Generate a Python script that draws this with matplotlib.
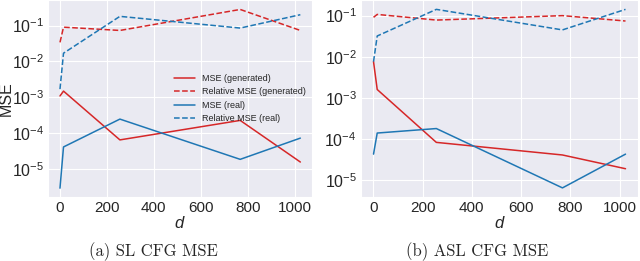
import matplotlib
matplotlib.use('Agg')
import matplotlib.pyplot as plt
import seaborn as sns

# d values on the x axis
d = [1, 16, 256, 768, 1024]

# (a) SL CFG
sl_mse_gen = [1.1e-3, 1.5e-3, 6.6e-5, 2.3e-4, 1.6e-5]
sl_rel_gen = [3.4e-2, 9.0e-2, 7.3e-2, 2.8e-1, 7.3e-2]
sl_mse_real = [3.0e-6, 4.2e-5, 2.5e-4, 1.9e-5, 7.4e-5]
sl_rel_real = [1.7e-3, 1.7e-2, 1.8e-1, 8.5e-2, 2.0e-1]

# (b) ASL CFG
asl_mse_gen = [7.6e-3, 1.6e-3, 8.3e-5, 4.1e-5, 1.9e-5]
asl_rel_gen = [9.1e-2, 1.07e-1, 7.8e-2, 1.0e-1, 7.4e-2]
asl_mse_real = [4.3e-5, 1.4e-4, 1.8e-4, 6.5e-6, 4.3e-5]
asl_rel_real = [7.6e-3, 3.2e-2, 1.42e-1, 4.5e-2, 1.42e-1]

captions = ['(a) SL CFG MSE', '(b) ASL CFG MSE']
labels = ['MSE (generated)', 'Relative MSE (generated)', 'MSE (real)', 'Relative MSE (real)']

sns.set_style('darkgrid')
plt.rcParams['font.family'] = ['Liberation Sans', 'DejaVu Sans']
plt.rcParams['mathtext.fontset'] = 'custom'
plt.rcParams['mathtext.rm'] = 'Liberation Sans'
plt.rcParams['mathtext.it'] = 'Liberation Sans:italic'
plt.rcParams['mathtext.bf'] = 'Liberation Sans:bold'

red = '#d62728'
blue = '#1f77b4'

fig = plt.figure(figsize=(6.4, 2.61), dpi=100)
ax1 = fig.add_axes([0.075, 0.245, 0.413, 0.755])
ax2 = fig.add_axes([0.564, 0.245, 0.433, 0.755])

panels = [
    (ax1, sl_mse_gen, sl_rel_gen, sl_mse_real, sl_rel_real, (10**-5.77, 10**-0.29), 0.24),
    (ax2, asl_mse_gen, asl_rel_gen, asl_mse_real, asl_rel_real, (10**-5.41, 10**-0.62), 0.746),
]

for i, (ax, mg, rg, mr, rr, ylim, cap_x) in enumerate(panels):
    ax.plot(d, mg, color=red, lw=1.1, label=labels[0])
    ax.plot(d, rg, color=red, lw=1.1, ls='--', label=labels[1])
    ax.plot(d, mr, color=blue, lw=1.1, label=labels[2])
    ax.plot(d, rr, color=blue, lw=1.1, ls='--', label=labels[3])
    ax.set_yscale('log')
    ax.set_ylim(*ylim)
    ax.set_xlim(-50, 1075)
    ax.set_xticks([0, 200, 400, 600, 800, 1000])
    ax.minorticks_off()
    ax.tick_params(axis='x', labelsize=11, length=0, pad=3)
    ax.tick_params(axis='y', labelsize=11.5, length=0, pad=3)
    ax.set_xlabel('$d$', fontsize=12, labelpad=0)
    fig.text(cap_x, 0.035, captions[i], ha='center', va='center',
             fontsize=12, family=['cmr10', 'DejaVu Serif'])

ax1.set_ylabel('MSE', fontsize=11.5)
ax1.yaxis.set_label_coords(-0.13, 0.5)
ax1.legend(loc='center left', bbox_to_anchor=(0.447, 0.5), fontsize=6.5, frameon=False,
           handlelength=2.3, labelspacing=0.5)

plt.savefig('out.png', dpi=100)
